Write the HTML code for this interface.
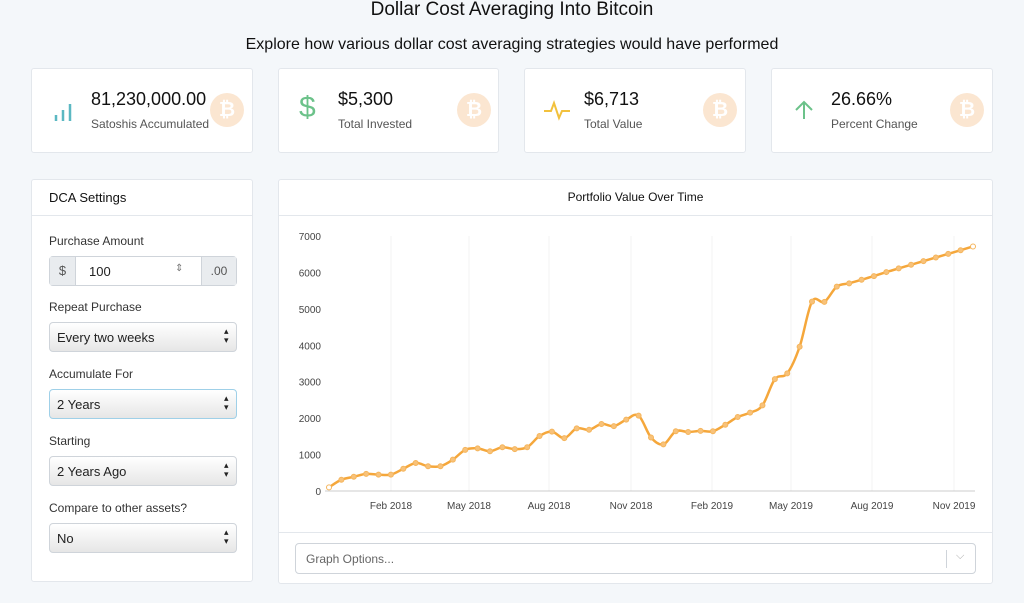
<!DOCTYPE html>
<html><head><meta charset="utf-8"><style>
*{box-sizing:border-box;margin:0;padding:0}
body{width:1024px;height:603px;background:#f4f7fa;font-family:"Liberation Sans",sans-serif;color:#222;position:relative;overflow:hidden}
.abs{position:absolute}
.card{position:absolute;background:#fff;border:1px solid #e3e7ec;border-radius:3px}
.big{position:absolute;font-size:18px;color:#111}
.sub{position:absolute;font-size:12px;color:#555}
.btc{position:absolute;width:34px;height:34px;border-radius:50%;background:#fbe6d1;color:#fff;font-weight:bold;font-size:20px;text-align:center;line-height:34px}
.lbl{position:absolute;left:17px;font-size:12px;color:#333}
.sel{position:absolute;left:17px;width:188px;height:30px;border:1px solid #cfd4da;border-radius:4px;background:linear-gradient(#fff,#e6e6e6);font-size:13px;padding:7px 7px;color:#222}
.sel:after{content:"▴▾";position:absolute;right:4px;top:4px;font-size:9px;line-height:9px;width:8px;word-break:break-all}
</style></head><body>
<div class="abs" style="left:0;width:1024px;top:-1px;text-align:center;font-size:19px;color:#111">Dollar Cost Averaging Into Bitcoin</div>
<div class="abs" style="left:0;width:1024px;top:36px;text-align:center;font-size:16px;color:#111">Explore how various dollar cost averaging strategies would have performed</div>

<div class="card" style="left:31px;top:68px;width:222px;height:85px">
 <svg class="abs" style="left:21px;top:32px" width="22" height="22"><path d="M3 20V14M10 20V9M17 20V3" stroke="#5bb8c2" stroke-width="2.5"/></svg>
 <div class="big" style="left:59px;top:20px">81,230,000.00</div><div class="sub" style="left:59px;top:48px">Satoshis Accumulated</div>
 <div class="btc" style="left:178px;top:24px">₿</div></div>
<div class="card" style="left:278px;top:68px;width:221px;height:85px">
 <div class="abs" style="left:20px;top:22px;font-size:30px;color:#6cc28a">$</div>
 <div class="big" style="left:59px;top:20px">$5,300</div><div class="sub" style="left:59px;top:48px">Total Invested</div>
 <div class="btc" style="left:178px;top:24px">₿</div></div>
<div class="card" style="left:524px;top:68px;width:222px;height:85px">
 <svg class="abs" style="left:18px;top:30px" width="28" height="22"><path d="M1 12H8L11 4L16 19L19 12H27" fill="none" stroke="#f2c13d" stroke-width="2"/></svg>
 <div class="big" style="left:59px;top:20px">$6,713</div><div class="sub" style="left:59px;top:48px">Total Value</div>
 <div class="btc" style="left:178px;top:24px">₿</div></div>
<div class="card" style="left:771px;top:68px;width:222px;height:85px">
 <svg class="abs" style="left:21px;top:30px" width="22" height="22"><path d="M11 20V3M3 11L11 3L19 11" fill="none" stroke="#6cc28a" stroke-width="2"/></svg>
 <div class="big" style="left:59px;top:20px">26.66%</div><div class="sub" style="left:59px;top:48px">Percent Change</div>
 <div class="btc" style="left:178px;top:24px">₿</div></div>

<div class="card" style="left:31px;top:179px;width:222px;height:403px">
 <div class="abs" style="left:17px;top:10px;font-size:13px;color:#111">DCA Settings</div>
 <div class="abs" style="left:0;top:35px;width:220px;border-top:1px solid #e3e7ec"></div>
 <div class="lbl" style="top:54px">Purchase Amount</div>
 <div class="abs" style="left:17px;top:76px;width:188px;height:30px;border:1px solid #cfd4da;border-radius:4px;font-size:13px">
  <div class="abs" style="left:0;top:0;width:26px;height:28px;background:#e9ecef;border-right:1px solid #cfd4da;text-align:center;line-height:28px;color:#555">$</div>
  <div class="abs" style="left:39px;top:7px">100</div>
  <div class="abs" style="left:125px;top:6px;font-size:10px;color:#777">⇕</div>
  <div class="abs" style="left:151px;top:0;width:35px;height:28px;background:#e9ecef;border-left:1px solid #cfd4da;text-align:center;line-height:28px;color:#555;font-size:12px">.00</div></div>
 <div class="lbl" style="top:120px">Repeat Purchase</div>
 <div class="sel" style="top:142px">Every two weeks</div>
 <div class="lbl" style="top:187px">Accumulate For</div>
 <div class="sel" style="top:209px;border-color:#9fd0e8">2 Years</div>
 <div class="lbl" style="top:254px">Starting</div>
 <div class="sel" style="top:276px">2 Years Ago</div>
 <div class="lbl" style="top:321px">Compare to other assets?</div>
 <div class="sel" style="top:343px">No</div>
</div>

<div class="card" style="left:278px;top:179px;width:715px;height:405px">
 <div class="abs" style="left:0;width:713px;top:10px;text-align:center;font-size:12px;color:#111">Portfolio Value Over Time</div>
 <div class="abs" style="left:0;top:35px;width:713px;border-top:1px solid #e3e7ec"></div>
 <div class="abs" style="left:0;top:352px;width:713px;border-top:1px solid #e3e7ec"></div>
 <div class="abs" style="left:16px;top:363px;width:681px;height:31px;border:1px solid #cfd4da;border-radius:4px;font-size:12px;color:#666;padding:8px 10px">Graph Options...
  <div class="abs" style="left:650px;top:6px;height:18px;border-left:1px solid #cfd4da"></div>
  <div class="abs" style="left:660px;top:6px;color:#aaa;font-size:11px">⌵</div></div>
</div>
<svg class="abs" style="left:0;top:0" width="1024" height="603" id="ch"></svg>
<script>
var v=[100,310,390,470,450,450,610,770,680,680,860,1130,1170,1090,1200,1150,1200,1510,1630,1450,1720,1680,1840,1780,1960,2070,1470,1280,1640,1620,1650,1640,1820,2030,2150,2350,3070,3230,3960,5200,5190,5610,5700,5800,5900,6010,6110,6210,6310,6410,6510,6610,6713];
var n=v.length,s='';
function X(i){return 329+(973-329)*i/(n-1)}function Y(a){return 491-a*255/7000}
var g=[[391,'Feb 2018'],[469,'May 2018'],[549,'Aug 2018'],[631,'Nov 2018'],[712,'Feb 2019'],[791,'May 2019'],[872,'Aug 2019'],[954,'Nov 2019']];
g.forEach(function(q){s+='<line x1="'+q[0]+'" x2="'+q[0]+'" y1="236" y2="491" stroke="#f3f3f3"/><text x="'+q[0]+'" y="509" font-size="10" fill="#444" text-anchor="middle" font-family="Liberation Sans">'+q[1]+'</text>'});
for(var k=0;k<=7;k++)s+='<text x="321" y="'+(Y(k*1000)+4)+'" font-size="10" fill="#444" text-anchor="end" font-family="Liberation Sans">'+(k*1000)+'</text>';
s+='<line x1="325" x2="975" y1="491" y2="491" stroke="#ccc"/>';
var p=[];for(var i=0;i<n;i++)p.push([X(i),Y(v[i])]);
var d='M'+p[0][0]+' '+p[0][1];
for(i=0;i<n-1;i++){var a=p[Math.max(i-1,0)],b=p[i],c=p[i+1],e=p[Math.min(i+2,n-1)];
d+='C'+(b[0]+(c[0]-a[0])/6)+' '+(b[1]+(c[1]-a[1])/6)+' '+(c[0]-(e[0]-b[0])/6)+' '+(c[1]-(e[1]-b[1])/6)+' '+c[0]+' '+c[1];}
s+='<path d="'+d+'" fill="none" stroke="#f5a73b" stroke-width="2.5"/>';
p.forEach(function(q,j){s+='<circle cx="'+q[0]+'" cy="'+q[1]+'" r="2.5" fill="'+((j==0||j==n-1)?'#fff':'#f8c27a')+'" stroke="#f5b55c" stroke-width="1"/>'});
document.getElementById('ch').innerHTML=s;
</script>
</body></html>
